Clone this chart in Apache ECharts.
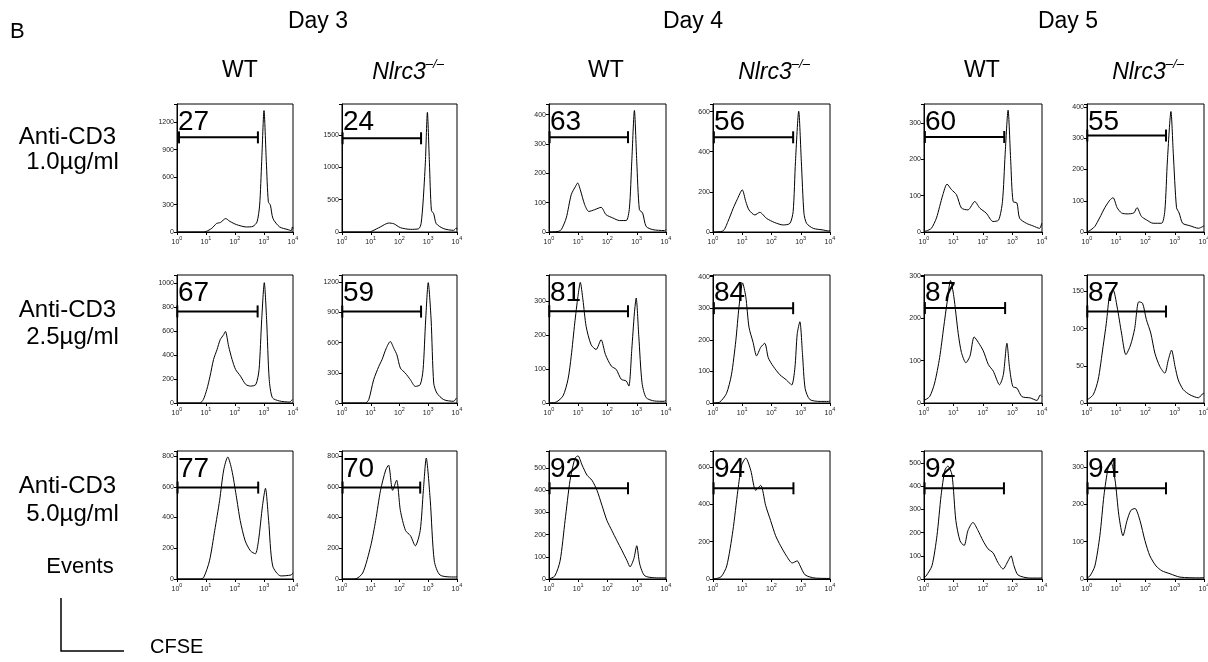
<!DOCTYPE html>
<html><head><meta charset="utf-8">
<script src="https://cdn.jsdelivr.net/npm/echarts@6.0.0/dist/echarts.min.js"></script>
<style>html,body{margin:0;padding:0;background:#fff}#c{width:1208px;height:662px}</style>
</head><body><div id="c"></div>
<script>
// ---------------- DATA ----------------
const days = ['Day 3', 'Day 4', 'Day 5'];
const genotypes = ['WT', 'Nlrc3'];
const rowTitle = 'Anti-CD3';
const doses = ['1.0µg/ml', '2.5µg/ml', '5.0µg/ml'];
const xTickExp = [0, 1, 2, 3, 4]; // CFSE axis: 10^0 .. 10^4 (values below are log10 CFSE)

// histograms: [log10 CFSE, events]
const d3wt_1 = [[0,0],[0.9,0],[1.0,5],[1.2,40],[1.36,92],[1.5,105],[1.68,147],[1.82,117],[2.05,81],[2.39,55],[2.62,62],[2.76,110],[2.85,294],[2.92,770],[3.0,1328],[3.08,770],[3.15,330],[3.22,294],[3.31,147],[3.54,55],[3.83,26],[3.94,15],[3.98,55],[4.0,40]];
const d3ko_1 = [[0,0],[0.95,0],[1.05,15],[1.33,77],[1.62,138],[1.8,128],[2.03,67],[2.38,41],[2.67,51],[2.75,128],[2.82,462],[2.9,1077],[2.97,1846],[3.04,1077],[3.11,333],[3.19,282],[3.28,128],[3.54,51],[3.88,26],[3.98,62],[4.0,40]];
const d4wt_1 = [[0,0],[0.31,2],[0.42,8],[0.59,48],[0.76,127],[0.91,156],[0.98,167],[1.07,144],[1.22,93],[1.36,70],[1.56,76],[1.78,84],[1.95,59],[2.18,48],[2.41,39],[2.64,39],[2.75,82],[2.83,241],[2.92,414],[3.0,241],[3.09,76],[3.2,65],[3.32,19],[3.55,8],[3.94,5],[4.0,8]];
const d4ko_1 = [[0,0],[0.34,5],[0.51,52],[0.69,118],[0.82,160],[1.0,210],[1.12,152],[1.23,110],[1.43,85],[1.6,98],[1.83,68],[2.11,47],[2.4,35],[2.63,43],[2.74,102],[2.82,352],[2.93,602],[3.02,352],[3.11,93],[3.2,43],[3.43,18],[3.77,10],[3.94,5],[4.0,8]];
const d5wt_1 = [[0,2],[0.08,3],[0.25,10],[0.42,38],[0.53,70],[0.64,103],[0.78,132],[0.93,117],[1.1,103],[1.27,66],[1.49,61],[1.72,84],[1.89,66],[2.11,52],[2.34,29],[2.53,33],[2.66,84],[2.75,214],[2.85,336],[2.94,195],[3.02,84],[3.15,80],[3.24,38],[3.47,24],[3.69,17],[3.92,10],[3.99,24]];
const d5ko_1 = [[0,2],[0.07,3],[0.26,17],[0.43,45],[0.61,78],[0.78,102],[0.89,110],[1.03,78],[1.18,61],[1.37,58],[1.6,61],[1.71,78],[1.86,50],[2.03,39],[2.26,28],[2.55,28],[2.66,67],[2.75,231],[2.87,386],[2.95,252],[3.06,78],[3.15,61],[3.27,28],[3.52,20],[3.81,12],[3.95,17],[4.0,20]];

const d3wt_25 = [[0,0],[0.79,0],[0.91,30],[1.03,114],[1.14,224],[1.26,363],[1.38,446],[1.49,529],[1.61,571],[1.67,598],[1.78,474],[1.9,363],[2.02,280],[2.19,224],[2.37,155],[2.54,141],[2.72,155],[2.83,280],[2.92,695],[3.01,1005],[3.09,695],[3.18,197],[3.29,44],[3.53,17],[3.88,8],[3.98,30]];
const d3ko_25 = [[0,0],[0.81,0],[0.93,33],[1.1,231],[1.28,364],[1.39,430],[1.54,545],[1.68,612],[1.8,545],[1.91,479],[2.03,347],[2.2,298],[2.38,231],[2.55,165],[2.72,182],[2.82,331],[2.91,826],[3.0,1197],[3.1,826],[3.19,198],[3.3,99],[3.54,33],[3.88,17],[3.98,50]];
const d4wt_25 = [[0,0],[0.25,3],[0.48,21],[0.65,70],[0.76,138],[0.88,236],[0.99,315],[1.07,356],[1.16,305],[1.27,226],[1.44,172],[1.61,158],[1.78,187],[1.93,143],[2.13,109],[2.3,99],[2.47,70],[2.64,65],[2.73,50],[2.83,158],[2.92,266],[2.98,310],[3.07,197],[3.18,60],[3.32,16],[3.6,6],[3.94,5],[4.0,8]];
const d4ko_25 = [[0,0],[0.23,3],[0.46,30],[0.63,89],[0.78,197],[0.89,305],[1.01,380],[1.12,337],[1.23,240],[1.37,192],[1.49,149],[1.63,176],[1.77,189],[1.89,143],[2.06,116],[2.29,89],[2.51,73],[2.69,57],[2.8,111],[2.88,219],[2.97,257],[3.06,154],[3.15,46],[3.31,11],[3.66,5],[3.94,5],[4.0,6]];
const d5wt_25 = [[0,6],[0.19,15],[0.36,47],[0.53,107],[0.67,180],[0.78,236],[0.9,289],[1.01,252],[1.16,164],[1.27,119],[1.42,95],[1.56,111],[1.7,156],[1.84,143],[2.01,123],[2.18,91],[2.35,75],[2.56,43],[2.69,67],[2.81,141],[2.9,83],[3.01,39],[3.15,35],[3.32,15],[3.6,12],[3.83,6],[3.94,19],[4.0,15]];
const d5ko_25 = [[0,4],[0.21,11],[0.38,31],[0.55,76],[0.66,107],[0.78,147],[0.89,152],[1.03,129],[1.18,94],[1.33,65],[1.49,78],[1.63,100],[1.77,136],[1.9,134],[2.03,112],[2.18,94],[2.32,67],[2.49,49],[2.66,40],[2.78,58],[2.89,71],[3.01,49],[3.12,31],[3.29,18],[3.52,11],[3.81,7],[3.98,13],[4.0,12]];

const d3wt_5 = [[0,0],[0.8,0],[0.92,10],[1.12,118],[1.3,315],[1.47,512],[1.61,709],[1.75,794],[1.89,709],[2.04,545],[2.18,380],[2.35,249],[2.53,184],[2.7,164],[2.81,249],[2.95,479],[3.05,590],[3.16,380],[3.3,85],[3.58,20],[3.93,26],[4.0,40]];
const d3ko_5 = [[0,0],[0.45,0],[0.72,39],[1.0,216],[1.17,380],[1.34,577],[1.52,709],[1.62,741],[1.76,577],[1.9,643],[2.03,446],[2.21,315],[2.38,282],[2.55,216],[2.72,315],[2.83,577],[2.93,787],[3.07,512],[3.21,118],[3.41,26],[3.93,13],[4.0,15]];
const d4wt_5 = [[0,0],[0.2,14],[0.38,82],[0.55,264],[0.72,445],[0.89,545],[0.99,555],[1.13,514],[1.3,468],[1.47,445],[1.64,400],[1.81,332],[1.98,264],[2.15,218],[2.32,173],[2.5,127],[2.67,82],[2.77,55],[2.9,91],[3.0,150],[3.1,68],[3.28,14],[3.8,5],[4.0,5]];
const d4ko_5 = [[0,0],[0.27,11],[0.47,70],[0.68,259],[0.85,475],[0.98,610],[1.12,648],[1.29,583],[1.46,475],[1.63,502],[1.8,394],[1.97,313],[2.14,232],[2.31,178],[2.51,124],[2.71,86],[2.88,97],[2.98,70],[3.15,22],[3.49,5],[4.0,3]];
const d5wt_5 = [[0,5],[0.07,13],[0.27,57],[0.44,187],[0.58,361],[0.71,470],[0.81,487],[0.95,448],[1.08,252],[1.22,165],[1.36,144],[1.49,209],[1.66,244],[1.83,209],[2.0,165],[2.17,130],[2.34,113],[2.51,70],[2.68,43],[2.85,78],[2.95,100],[3.05,57],[3.19,17],[3.59,4],[3.93,4],[4.0,6]];
const d5ko_5 = [[0,3],[0.1,8],[0.27,35],[0.44,116],[0.58,224],[0.72,297],[0.82,313],[0.96,265],[1.09,170],[1.23,116],[1.37,157],[1.5,184],[1.64,189],[1.81,157],[1.98,103],[2.15,62],[2.36,35],[2.56,22],[2.84,14],[3.18,5],[3.86,3],[4.0,4]];

const hist = [
  [d3wt_1, d3ko_1, d4wt_1, d4ko_1, d5wt_1, d5ko_1],
  [d3wt_25, d3ko_25, d4wt_25, d4ko_25, d5wt_25, d5ko_25],
  [d3wt_5, d3ko_5, d4wt_5, d4ko_5, d5wt_5, d5ko_5]
];
// gate: percentage, start / end (log10 CFSE), level (events)
const gatePct   = [[27,24,63,56,60,55],[67,59,81,84,87,87],[77,70,92,94,92,94]];
const gateStart = [[0.07,0.02,0.02,0.03,0.03,0.01],[0.01,0.01,0.01,0.03,0.03,0.01],[0.02,0.02,0.02,0.02,0.02,0.02]];
const gateEnd   = [[2.79,2.75,2.7,2.74,2.72,2.7],[2.78,2.75,2.7,2.74,2.75,2.7],[2.8,2.72,2.7,2.75,2.71,2.7]];
const gateLevel = [[1035,1446,323,472,262,309],[765,909,271,300,224,123],[595,595,409,486,391,243]];
// y axis extents / tick steps (events)
const yMax  = [[1400,1975,436,638,353,410],[1069,1273,378,405,302,172],[833,833,577,686,552,343]];
const yStep = [[300,500,100,200,100,100],[200,300,100,100,100,50],[200,200,100,200,100,100]];

// ---------------- LAYOUT ----------------
const colLeft = [177, 342, 549, 713, 924, 1087];
const colW = [116, 115, 117, 117, 118, 117];
const rowTop = [104, 275, 451];
const rowH = 128;
const FONT = '"Liberation Sans", Arial, Helvetica, sans-serif';

const grids = [], xAxes = [], yAxes = [], series = [];
function makeGate(label) {
  return function (params, api) {
    const a = api.coord([api.value(0), api.value(2)]);
    const b = api.coord([api.value(1), api.value(2)]);
    const cs = params.coordSys;
    const st = { stroke: '#000', lineWidth: 2 };
    return { type: 'group', children: [
      { type: 'line', shape: { x1: a[0], y1: a[1], x2: b[0], y2: b[1] }, style: st },
      { type: 'line', shape: { x1: a[0], y1: a[1] - 6, x2: a[0], y2: a[1] + 6 }, style: st },
      { type: 'line', shape: { x1: b[0], y1: b[1] - 6, x2: b[0], y2: b[1] + 6 }, style: st },
      { type: 'text', x: cs.x + 1, y: cs.y + 4, style: { text: label, fontSize: 28, fontFamily: FONT, fill: '#000', align: 'left', verticalAlign: 'top' } }
    ]};
  };
}
for (let r = 0; r < 3; r++) {
  for (let c = 0; c < 6; c++) {
    const idx = r * 6 + c;
    const step = yStep[r][c];
    grids.push({ left: colLeft[c], top: rowTop[r], width: colW[c], height: rowH, show: true,
      borderColor: '#000', borderWidth: 1, backgroundColor: 'transparent', containLabel: false, outerBoundsMode: 'none' });
    xAxes.push({ gridIndex: idx, type: 'value', min: xTickExp[0], max: xTickExp[xTickExp.length - 1], interval: 1,
      axisLine: { show: true, lineStyle: { color: '#000', width: 1 } },
      axisTick: { show: true, length: 3, lineStyle: { color: '#000' } },
      splitLine: { show: false },
      axisLabel: { margin: 3, color: '#222', fontFamily: FONT,
        formatter: v => '{b|10}{s|' + v + '}',
        rich: { b: { fontSize: 7, lineHeight: 11, verticalAlign: 'bottom', fontFamily: FONT, color: '#222' },
                s: { fontSize: 5.5, lineHeight: 6, verticalAlign: 'top', fontFamily: FONT, color: '#222' } } } });
    yAxes.push({ gridIndex: idx, type: 'value', min: 0, max: yMax[r][c], interval: step,
      axisLine: { show: true, lineStyle: { color: '#000', width: 1 } },
      axisTick: { show: true, length: 3, lineStyle: { color: '#000' } },
      splitLine: { show: false },
      axisLabel: { margin: 3, fontSize: 7, color: '#222', fontFamily: FONT,
        formatter: v => (Math.abs(v % step) < 1e-6 ? String(v) : '') } });
    series.push({ type: 'line', xAxisIndex: idx, yAxisIndex: idx, data: hist[r][c], symbol: 'none', showSymbol: false,
      smooth: 0.25, lineStyle: { color: '#000', width: 1 }, silent: true, animation: false, z: 3 });
    series.push({ type: 'custom', xAxisIndex: idx, yAxisIndex: idx,
      data: [[gateStart[r][c], gateEnd[r][c], gateLevel[r][c]]],
      renderItem: makeGate(String(gatePct[r][c])), silent: true, animation: false, z: 5 });
  }
}

const graphic = [];
function txt(x, y, text, size, align, extra) {
  graphic.push(Object.assign({ type: 'text', x: x, y: y, silent: true,
    style: Object.assign({ text: text, fontSize: size, fontFamily: FONT, fill: '#000', align: align || 'center', verticalAlign: 'middle' }, extra || {}) }));
}
txt(10, 32, 'B', 22, 'left');
const dayCx = [318, 693, 1068];
days.forEach((d, i) => txt(dayCx[i], 22, d, 23));
const wtCx = [240, 606, 982], koCx = [408, 774, 1148];
wtCx.forEach(x => txt(x, 71, genotypes[0], 23));
koCx.forEach(x => txt(x, 71, '{i|' + genotypes[1] + '}{s|–/–}', 23, 'center', {
  rich: { i: { fontSize: 23, fontStyle: 'italic', fontFamily: FONT, lineHeight: 26, verticalAlign: 'bottom', fill: '#000' },
          s: { fontSize: 13, fontStyle: 'italic', fontFamily: FONT, lineHeight: 13, verticalAlign: 'top', fill: '#000' } } }));
const rowY1 = [137, 310, 486], rowY2 = [162, 337, 514];
doses.forEach((d, i) => { txt(67.5, rowY1[i], rowTitle, 24); txt(72.5, rowY2[i], d, 24); });
txt(80, 567, 'Events', 22);
txt(150, 647, 'CFSE', 20, 'left');
graphic.push({ type: 'polyline', silent: true, shape: { points: [[61, 598], [61, 651], [124, 651]] }, style: { stroke: '#000', lineWidth: 1.5, fill: null } });

const chart = echarts.init(document.getElementById('c'), null, { renderer: 'canvas' });
chart.setOption({ animation: false, backgroundColor: '#fff', grid: grids, xAxis: xAxes, yAxis: yAxes, series: series, graphic: graphic });
</script></body></html>
